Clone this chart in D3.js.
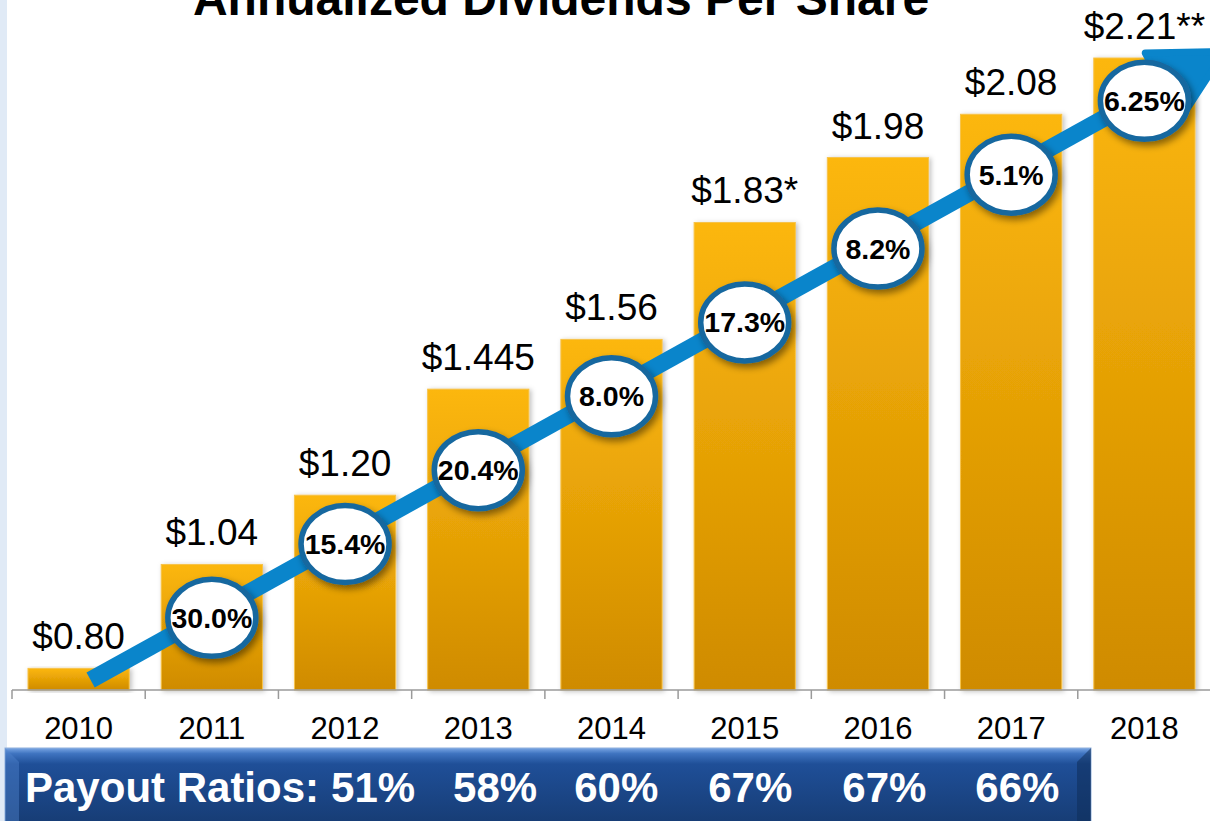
<!DOCTYPE html>
<html>
<head>
<meta charset="utf-8">
<script src="https://cdn.jsdelivr.net/npm/d3@7"></script>
<style>
  body { margin: 0; background: #fff; overflow: hidden; }
  text { font-family: "Liberation Sans", Arial, sans-serif; }
</style>
</head>
<body>
<div id="chart"></div>
<script>
// Data
const years = ["2010", "2011", "2012", "2013", "2014", "2015", "2016", "2017", "2018"];
const dividends = [0.80, 1.04, 1.20, 1.445, 1.56, 1.83, 1.98, 2.08, 2.21];
const dividendLabels = ["$0.80", "$1.04", "$1.20", "$1.445", "$1.56", "$1.83*", "$1.98", "$2.08", "$2.21**"];
const growthYears = ["2011", "2012", "2013", "2014", "2015", "2016", "2017", "2018"];
const growthLabels = ["30.0%", "15.4%", "20.4%", "8.0%", "17.3%", "8.2%", "5.1%", "6.25%"];
const payoutTitle = "Payout Ratios:";
const payoutRatios = ["51%", "58%", "60%", "67%", "67%", "66%"];
const chartTitle = "Annualized Dividends Per Share";

const width = 1210, height = 821;
const svg = d3.select("#chart").append("svg")
    .attr("width", width)
    .attr("height", height);

const defs = svg.append("defs");

// bar gradient, gold at top -> darker at bottom
const barGrad = defs.append("linearGradient")
    .attr("id", "barGrad").attr("x1", 0).attr("y1", 0).attr("x2", 0).attr("y2", 1);
barGrad.append("stop").attr("offset", "0%").attr("stop-color", "#fcb70c");
barGrad.append("stop").attr("offset", "100%").attr("stop-color", "#cf8b00");

const bannerGrad = defs.append("linearGradient")
    .attr("id", "bannerGrad").attr("x1", 0).attr("y1", 0).attr("x2", 0).attr("y2", 1);
bannerGrad.append("stop").attr("offset", "0%").attr("stop-color", "#7aa6e4");
bannerGrad.append("stop").attr("offset", "7%").attr("stop-color", "#3f74c0");
bannerGrad.append("stop").attr("offset", "20%").attr("stop-color", "#1f4f98");
bannerGrad.append("stop").attr("offset", "100%").attr("stop-color", "#163b72");

const barShadow = defs.append("filter").attr("id", "barShadow")
    .attr("x", "-10%").attr("y", "-10%").attr("width", "130%").attr("height", "120%");
barShadow.append("feDropShadow")
    .attr("dx", 2).attr("dy", 1).attr("stdDeviation", 2.5)
    .attr("flood-color", "#000").attr("flood-opacity", 0.25);

const bubbleShadow = defs.append("filter").attr("id", "bubbleShadow")
    .attr("x", "-30%").attr("y", "-30%").attr("width", "170%").attr("height", "170%");
bubbleShadow.append("feDropShadow")
    .attr("dx", 3).attr("dy", 4).attr("stdDeviation", 3.5)
    .attr("flood-color", "#000").attr("flood-opacity", 0.45);

// light blue strip on the left edge
svg.append("rect")
    .attr("x", 0).attr("y", 0).attr("width", 7).attr("height", height)
    .attr("fill", "#e0eaf6");

// scales
const x = d3.scaleBand()
    .domain(years)
    .range([12, 1211])
    .paddingInner(0.24)
    .paddingOuter(0.12);

const y = d3.scaleLinear()
    .domain([0.75, 2.21])
    .range([690, 58]);

const baseY = y(0.75);
const step = x.step();

// title (cut off by the top edge, as in the source)
svg.append("text")
    .attr("x", 561)
    .attr("y", 15)
    .attr("text-anchor", "middle")
    .attr("font-size", 48)
    .attr("font-weight", "bold")
    .attr("fill", "#000")
    .text(chartTitle);

// bars
svg.append("g")
    .selectAll("rect")
    .data(years)
    .enter().append("rect")
    .attr("x", d => x(d))
    .attr("y", (d, i) => y(dividends[i]))
    .attr("width", x.bandwidth())
    .attr("height", (d, i) => baseY - y(dividends[i]))
    .attr("fill", "url(#barGrad)")
    .attr("stroke", "#f7c34a")
    .attr("stroke-width", 1)
    .attr("filter", "url(#barShadow)");

// axis line with ticks at the band edges
const axis = svg.append("g");
axis.append("line")
    .attr("x1", 12).attr("x2", width)
    .attr("y1", baseY).attr("y2", baseY)
    .attr("stroke", "#9a9a9a").attr("stroke-width", 1.5);
axis.selectAll("line.tick")
    .data(years)
    .enter().append("line")
    .attr("class", "tick")
    .attr("x1", d => x(d) - step * 0.12)
    .attr("x2", d => x(d) - step * 0.12)
    .attr("y1", baseY).attr("y2", baseY + 9)
    .attr("stroke", "#9a9a9a").attr("stroke-width", 1.5);

// year labels
svg.append("g")
    .selectAll("text")
    .data(years)
    .enter().append("text")
    .attr("x", d => x(d) + x.bandwidth() / 2)
    .attr("y", 739)
    .attr("text-anchor", "middle")
    .attr("font-size", 31)
    .attr("fill", "#000")
    .text(d => d);

// dollar labels above the bars
svg.append("g")
    .selectAll("text")
    .data(years)
    .enter().append("text")
    .attr("x", d => x(d) + x.bandwidth() / 2)
    .attr("y", (d, i) => y(dividends[i]) - 19)
    .attr("text-anchor", "middle")
    .attr("font-size", 37)
    .attr("fill", "#000")
    .text((d, i) => dividendLabels[i]);

// growth arrow
const x0 = x("2010") + x.bandwidth() / 2 + 12, y0 = y(0.773);
const x1 = x("2018") + x.bandwidth() / 2 + 80, y1 = y(2.225);
const ang = Math.atan2(y1 - y0, x1 - x0);
const headLen = 70, headHalf = 37;
const bx = x1 - headLen * Math.cos(ang), by = y1 - headLen * Math.sin(ang);

svg.append("line")
    .attr("x1", x0).attr("y1", y0)
    .attr("x2", bx + 6 * Math.cos(ang)).attr("y2", by + 6 * Math.sin(ang))
    .attr("stroke", "#0a85cb")
    .attr("stroke-width", 17);

svg.append("path")
    .attr("d", d3.line()([
        [x1, y1],
        [bx + headHalf * Math.sin(ang), by - headHalf * Math.cos(ang)],
        [bx - headHalf * Math.sin(ang), by + headHalf * Math.cos(ang)]
    ]) + "Z")
    .attr("fill", "#0a85cb")
    .attr("stroke", "#0a85cb")
    .attr("stroke-width", 7)
    .attr("stroke-linejoin", "round");

// growth bubbles sit on the arrow at each bar centre
function onArrow(px) {
    return y0 + (px - x0) / (x1 - x0) * (y1 - y0) + 5;
}

const bubble = svg.append("g")
    .selectAll("g")
    .data(growthYears)
    .enter().append("g")
    .attr("transform", d => {
        const cx = x(d) + x.bandwidth() / 2;
        return `translate(${cx},${onArrow(cx)})`;
    });

bubble.append("ellipse")
    .attr("rx", 44)
    .attr("ry", 38.5)
    .attr("fill", "#fff")
    .attr("stroke", "#17679f")
    .attr("stroke-width", 5.5)
    .attr("filter", "url(#bubbleShadow)");

bubble.append("text")
    .attr("text-anchor", "middle")
    .attr("dy", 10)
    .attr("font-size", 28.5)
    .attr("font-weight", "bold")
    .attr("fill", "#000")
    .text((d, i) => growthLabels[i]);

// payout ratio banner
const banner = svg.append("g");
banner.append("rect")
    .attr("x", 5).attr("y", 748)
    .attr("width", 1086).attr("height", 80)
    .attr("fill", "url(#bannerGrad)")
    .attr("stroke", "#8fb0dc").attr("stroke-width", 1);
banner.append("path")
    .attr("d", "M1091,748 L1091,828 L1077,828 L1077,762 Z")
    .attr("fill", "#0f2d5a").attr("opacity", 0.55);
banner.append("path")
    .attr("d", "M5,748 L19,762 L19,828 L5,828 Z")
    .attr("fill", "#4f82cc").attr("opacity", 0.45);

const payoutGaps = [12, 38, 37, 50, 50, 49];
const bannerText = banner.append("text")
    .attr("x", 25)
    .attr("y", 802)
    .attr("font-size", 42)
    .attr("font-weight", "bold")
    .attr("fill", "#fff");
bannerText.append("tspan").text(payoutTitle);
bannerText.selectAll("tspan.val")
    .data(payoutRatios)
    .enter().append("tspan")
    .attr("class", "val")
    .attr("dx", (d, i) => payoutGaps[i])
    .text(d => d);
</script>
</body>
</html>
